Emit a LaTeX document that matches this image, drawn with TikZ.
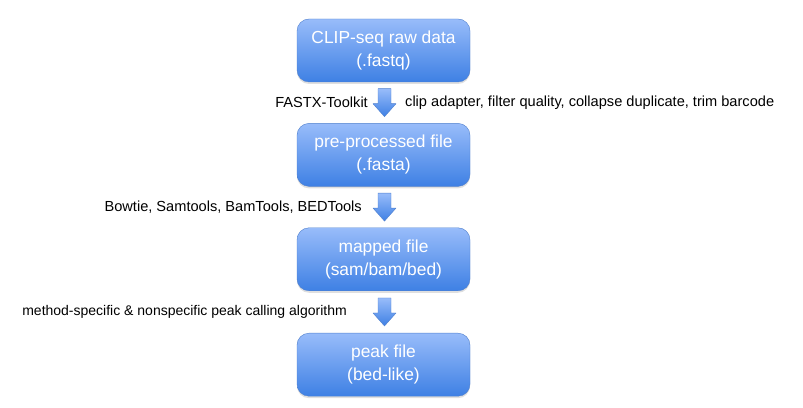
\documentclass[tikz,border=0pt]{standalone}
\usepackage{fontspec}
\setmainfont{Liberation Sans}
\usetikzlibrary{positioning,shadows,calc}
\definecolor{boxtop}{RGB}{152,188,250}
\definecolor{boxbot}{RGB}{62,128,228}
\definecolor{boxline}{RGB}{80,128,205}

\begin{document}
\begin{tikzpicture}[
x=1pt,y=1pt,
stepbox/.style={
  draw=boxline,
  rounded corners=12pt,
  top color=boxtop,
  bottom color=boxbot,
  minimum width=173pt,
  minimum height=63pt,
  text=white,
  align=center,
  font=\fontsize{17.4}{23}\selectfont,
  drop shadow={opacity=0.25,shadow xshift=0pt,shadow yshift=-2pt}
  },
arrowbody/.style={
  draw=boxline,
  line join=round,
  top color=boxtop,
  bottom color=boxbot
  },
tool/.style={
  font=\fontsize{14.6}{17}\selectfont,
  inner sep=0pt
  }
]
\useasboundingbox (0,0) rectangle (803,407);
\node[stepbox] (raw) at (383.5,356.5) {CLIP-seq raw data\\(.fastq)};
\node[stepbox,below=41pt of raw] (pre) {pre-processed file\\(.fasta)};
\node[stepbox,below=41pt of pre] (map) {mapped file\\(sam/bam/bed)};
\node[stepbox,below=42pt of map] (peak) {peak file\\(bed-like)};
% block arrows between the steps
\coordinate (a1) at ($(raw.south)!0.5!(pre.north)+(1,0)$);
\coordinate (a2) at ($(pre.south)!0.5!(map.north)+(1,0)$);
\coordinate (a3) at ($(map.south)!0.5!(peak.north)+(1,0)$);
\foreach \Arr in {a1,a2,a3}
  \draw[arrowbody] (\Arr) ++(-6.5,14) -- ++(13,0) -- ++(0,-15) -- ++(5,0)
    -- ++(-11.5,-13) -- ++(-11.5,13) -- ++(5,0) -- cycle;
% tools and operations
\node[tool,left=16.5pt of a1] (fastx) {FASTX-Toolkit};
\node[tool,right=20.5pt of a1] (clip) {clip adapter, filter quality, collapse duplicate, trim barcode};
\node[tool,left=22.5pt of a2] (bowtie) {Bowtie, Samtools, BamTools, BEDTools};
\node[tool,left=37.5pt of a3,font=\fontsize{14}{17}\selectfont] (peakcall) {method-specific \& nonspecific peak calling algorithm};
\end{tikzpicture}
\end{document}
